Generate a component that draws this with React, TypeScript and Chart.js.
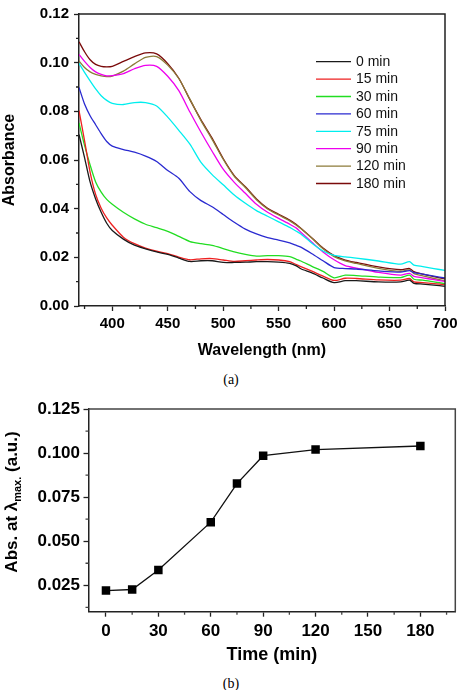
import React, { useEffect, useRef } from 'react';
import { Chart, registerables } from 'chart.js';

Chart.register(...registerables);

// ---------- Spectra (a) ----------
const WAVELENGTHS = [370, 375, 380, 385, 390, 395, 400, 410, 420, 430, 440, 450, 460, 470, 480, 490, 500, 510, 520, 530, 540, 550, 560, 566, 570, 580, 590, 600, 610, 620, 640, 660, 668, 672, 680, 690, 700];

const ABS_0MIN = [0.0705, 0.061, 0.051, 0.044, 0.0385, 0.034, 0.031, 0.0275, 0.025, 0.0235, 0.0222, 0.0212, 0.0197, 0.0183, 0.0186, 0.0186, 0.0179, 0.0179, 0.018, 0.0182, 0.0182, 0.018, 0.0175, 0.0165, 0.0153, 0.0136, 0.0115, 0.0096, 0.0104, 0.0104, 0.0099, 0.0099, 0.0106, 0.0093, 0.009, 0.0086, 0.0081];
const ABS_15MIN = [0.0803, 0.068, 0.055, 0.0458, 0.0402, 0.0362, 0.0332, 0.0283, 0.0256, 0.0238, 0.0225, 0.0215, 0.0201, 0.019, 0.0194, 0.0195, 0.0189, 0.0183, 0.0186, 0.0189, 0.0191, 0.0189, 0.0182, 0.017, 0.0162, 0.0143, 0.0123, 0.0105, 0.0114, 0.0113, 0.0107, 0.0106, 0.0113, 0.0099, 0.0096, 0.0092, 0.0087];
const ABS_30MIN = [0.0752, 0.066, 0.058, 0.051, 0.0468, 0.0438, 0.0418, 0.0385, 0.0358, 0.0336, 0.0322, 0.0307, 0.0286, 0.0265, 0.0256, 0.0249, 0.0236, 0.0222, 0.0212, 0.0205, 0.0207, 0.0207, 0.0203, 0.0192, 0.0185, 0.0163, 0.0142, 0.0116, 0.0127, 0.0125, 0.0119, 0.0117, 0.0127, 0.011, 0.0106, 0.0099, 0.0092];
const ABS_60MIN = [0.0898, 0.083, 0.0782, 0.0745, 0.0708, 0.0676, 0.0657, 0.0643, 0.0632, 0.0616, 0.0594, 0.0557, 0.0525, 0.047, 0.0433, 0.0408, 0.0376, 0.0344, 0.0316, 0.0296, 0.0281, 0.0271, 0.0259, 0.0249, 0.0242, 0.0215, 0.0186, 0.0158, 0.0154, 0.0152, 0.0144, 0.0139, 0.0145, 0.0137, 0.0131, 0.0123, 0.0115];
const ABS_75MIN = [0.0997, 0.096, 0.0925, 0.0892, 0.0864, 0.0845, 0.0833, 0.0828, 0.0836, 0.0836, 0.0822, 0.0776, 0.0722, 0.0665, 0.059, 0.054, 0.0498, 0.0456, 0.0422, 0.0392, 0.0369, 0.0346, 0.0323, 0.0307, 0.0296, 0.0258, 0.0226, 0.0208, 0.0202, 0.0197, 0.0185, 0.0172, 0.0182, 0.0168, 0.0162, 0.0154, 0.0146];
const ABS_90MIN = [0.1034, 0.1005, 0.098, 0.0962, 0.0952, 0.0946, 0.0947, 0.0955, 0.0975, 0.0989, 0.0985, 0.0944, 0.0885, 0.0797, 0.0714, 0.0636, 0.0562, 0.0508, 0.0463, 0.0418, 0.0385, 0.036, 0.0336, 0.032, 0.0303, 0.0262, 0.0222, 0.019, 0.0166, 0.0156, 0.0138, 0.0127, 0.0134, 0.0122, 0.0116, 0.0108, 0.0101];
const ABS_120MIN = [0.1007, 0.098, 0.0962, 0.0952, 0.0946, 0.0943, 0.0945, 0.0965, 0.0995, 0.1022, 0.1025, 0.099, 0.0935, 0.085, 0.0762, 0.0685, 0.0603, 0.0533, 0.0487, 0.0437, 0.0399, 0.0374, 0.035, 0.0332, 0.0318, 0.0278, 0.0235, 0.0203, 0.0185, 0.0175, 0.0155, 0.0142, 0.0148, 0.0133, 0.0124, 0.0113, 0.0103];
const ABS_180MIN = [0.1086, 0.1045, 0.1012, 0.0993, 0.0985, 0.0983, 0.0985, 0.1005, 0.1025, 0.104, 0.1036, 0.0996, 0.0936, 0.0848, 0.0765, 0.069, 0.0606, 0.0536, 0.049, 0.044, 0.0402, 0.0377, 0.0353, 0.0335, 0.032, 0.028, 0.0238, 0.0207, 0.0189, 0.0179, 0.0161, 0.0149, 0.0154, 0.0141, 0.0131, 0.0121, 0.0111];

const SPECTRA_LABELS = ['0 min', '15 min', '30 min', '60 min', '75 min', '90 min', '120 min', '180 min'];
const SPECTRA = [ABS_0MIN, ABS_15MIN, ABS_30MIN, ABS_60MIN, ABS_75MIN, ABS_90MIN, ABS_120MIN, ABS_180MIN];
const SPECTRA_COLORS = ['#1a1a1a', '#ee2020', '#22dd22', '#2a2ad0', '#00eeee', '#ee00ee', '#8c7b38', '#7a0a0a'];

const WL_TICKS = [400, 450, 500, 550, 600, 650, 700];
const WL_MINOR = [375, 425, 475, 525, 575, 625, 675];
const ABS_TICKS = [0, 0.02, 0.04, 0.06, 0.08, 0.1, 0.12];
const ABS_MINOR = [0.01, 0.03, 0.05, 0.07, 0.09, 0.11];

// ---------- Kinetics (b) ----------
const TIMES = [0, 15, 30, 60, 75, 90, 120, 180];
const ABS_AT_MAX = [0.022, 0.0226, 0.0337, 0.0608, 0.0827, 0.0985, 0.102, 0.104];

const TIME_TICKS = [0, 30, 60, 90, 120, 150, 180];
const TIME_MINOR = [15, 45, 75, 105, 135, 165, 195];
const KIN_TICKS = [0.025, 0.05, 0.075, 0.1, 0.125];
const KIN_MINOR = [0.0125, 0.0375, 0.0625, 0.0875, 0.1125];

const SANS = "'Liberation Sans', Arial, sans-serif";
const AXIS = '#222222';

// Closes the plot box on top/right and adds short minor ticks on the axes.
const framePlugin = {
  id: 'frame',
  afterDraw(chart: any, _args: any, opts: any) {
    const { ctx, chartArea: a, scales } = chart;
    ctx.save();
    ctx.strokeStyle = opts.color;
    ctx.lineWidth = opts.width;
    ctx.beginPath();
    ctx.moveTo(a.left, a.top);
    ctx.lineTo(a.right, a.top);
    ctx.lineTo(a.right, a.bottom);
    ctx.stroke();
    ctx.lineWidth = opts.tickWidth;
    ctx.beginPath();
    for (const v of opts.minorX || []) {
      const px = scales.x.getPixelForValue(v);
      ctx.moveTo(px, a.bottom);
      ctx.lineTo(px, a.bottom + opts.minorLen);
    }
    for (const v of opts.minorY || []) {
      const py = scales.y.getPixelForValue(v);
      ctx.moveTo(a.left, py);
      ctx.lineTo(a.left - opts.minorLen, py);
    }
    ctx.stroke();
    ctx.restore();
  },
};

// Line-sample legend placed inside the plot area.
const lineLegendPlugin = {
  id: 'lineLegend',
  afterDraw(chart: any, _args: any, opts: any) {
    const { ctx } = chart;
    ctx.save();
    ctx.font = opts.font;
    ctx.textBaseline = 'middle';
    ctx.textAlign = 'left';
    chart.data.datasets.forEach((ds: any, i: number) => {
      const y = opts.y + i * opts.step;
      ctx.strokeStyle = ds.borderColor;
      ctx.lineWidth = 1.3;
      ctx.beginPath();
      ctx.moveTo(opts.x, y);
      ctx.lineTo(opts.x + opts.len, y);
      ctx.stroke();
      ctx.fillStyle = '#111';
      ctx.fillText(ds.label, opts.x + opts.len + opts.gap, y + 0.5);
    });
    ctx.restore();
  },
};

// Rotated y-axis title with a subscript part.
const subTitlePlugin = {
  id: 'subTitle',
  afterDraw(chart: any, _args: any, opts: any) {
    const { ctx } = chart;
    const parts = opts.parts as { text: string; sub?: boolean }[];
    const mainFont = `bold ${opts.size}px ${SANS}`;
    const subFont = `bold ${opts.subSize}px ${SANS}`;
    ctx.save();
    let total = 0;
    const widths = parts.map((p) => {
      ctx.font = p.sub ? subFont : mainFont;
      const w = ctx.measureText(p.text).width;
      total += w;
      return w;
    });
    ctx.translate(opts.x, opts.y);
    ctx.rotate(-Math.PI / 2);
    ctx.fillStyle = '#000';
    ctx.textBaseline = 'alphabetic';
    ctx.textAlign = 'left';
    let cx = -total / 2;
    parts.forEach((p, i) => {
      ctx.font = p.sub ? subFont : mainFont;
      ctx.fillText(p.text, cx, p.sub ? opts.subShift : 0);
      cx += widths[i];
    });
    ctx.restore();
  },
};

function tickFont(size: number) {
  return { family: SANS, size, weight: 'bold' as const };
}

export default function App() {
  const refA = useRef<HTMLCanvasElement | null>(null);
  const refB = useRef<HTMLCanvasElement | null>(null);

  useEffect(() => {
    const chartA = new Chart(refA.current as HTMLCanvasElement, {
      type: 'line',
      data: {
        datasets: SPECTRA.map((vals, i) => ({
          label: SPECTRA_LABELS[i],
          data: WAVELENGTHS.map((w, j) => ({ x: w, y: vals[j] })),
          borderColor: SPECTRA_COLORS[i],
          backgroundColor: SPECTRA_COLORS[i],
          borderWidth: 1.3,
          pointRadius: 0,
          tension: 0.25,
          fill: false,
        })),
      },
      options: {
        responsive: false,
        animation: false,
        devicePixelRatio: 1,
        events: [],
        layout: { padding: { top: 12, right: 17, left: 0, bottom: 0 } },
        plugins: {
          legend: { display: false },
          tooltip: { enabled: false },
          frame: { color: AXIS, width: 1.5, tickWidth: 1.3, minorLen: 3, minorX: WL_MINOR, minorY: ABS_MINOR },
          lineLegend: { x: 316, y: 61.7, step: 17.4, len: 35, gap: 5, font: `14px ${SANS}` },
        } as any,
        scales: {
          x: {
            type: 'linear',
            min: 370,
            max: 700,
            afterBuildTicks: (s: any) => { s.ticks = WL_TICKS.map((v) => ({ value: v })); },
            afterFit: (s: any) => { s.height = 60; },
            ticks: { font: tickFont(15), color: '#000', padding: 4, maxRotation: 0, autoSkip: false, callback: (v: any) => String(v) },
            grid: { display: true, drawOnChartArea: false, drawTicks: true, tickLength: 5, tickColor: AXIS, tickWidth: 1.3 },
            border: { display: true, color: AXIS, width: 1.5 },
            title: { display: true, text: 'Wavelength (nm)', color: '#000', font: tickFont(16), padding: { top: 0, bottom: 6 } },
          },
          y: {
            type: 'linear',
            min: 0,
            max: 0.12,
            afterBuildTicks: (s: any) => { s.ticks = ABS_TICKS.map((v) => ({ value: v })); },
            afterFit: (s: any) => { s.width = 79; },
            ticks: { font: tickFont(15), color: '#000', padding: 5, autoSkip: false, callback: (v: any) => Number(v).toFixed(2) },
            grid: { display: true, drawOnChartArea: false, drawTicks: true, tickLength: 5, tickColor: AXIS, tickWidth: 1.3 },
            border: { display: true, color: AXIS, width: 1.5 },
            title: { display: true, text: 'Absorbance', color: '#000', font: tickFont(16), padding: { top: 0, bottom: 0 } },
          },
        },
      } as any,
      plugins: [framePlugin, lineLegendPlugin],
    });

    const chartB = new Chart(refB.current as HTMLCanvasElement, {
      type: 'line',
      data: {
        datasets: [
          {
            label: 'Abs. at λmax.',
            data: TIMES.map((t, i) => ({ x: t, y: ABS_AT_MAX[i] })),
            borderColor: '#111',
            backgroundColor: '#000',
            borderWidth: 1.3,
            pointStyle: 'rect',
            pointRadius: 6,
            pointBorderWidth: 0,
            tension: 0,
            fill: false,
          },
        ],
      },
      options: {
        responsive: false,
        animation: false,
        devicePixelRatio: 1,
        events: [],
        layout: { padding: { top: 17, right: 6.7, left: 0, bottom: 0 } },
        plugins: {
          legend: { display: false },
          tooltip: { enabled: false },
          frame: { color: '#444', width: 1.5, tickWidth: 1.3, minorLen: 3, minorX: TIME_MINOR, minorY: KIN_MINOR },
          subTitle: {
            x: 17,
            y: 110,
            size: 17,
            subSize: 11,
            subShift: 4,
            parts: [{ text: 'Abs. at λ' }, { text: 'max.', sub: true }, { text: ' (a.u.)' }],
          },
        } as any,
        scales: {
          x: {
            type: 'linear',
            min: -10,
            max: 200,
            afterBuildTicks: (s: any) => { s.ticks = TIME_TICKS.map((v) => ({ value: v })); },
            afterFit: (s: any) => { s.height = 58.3; },
            ticks: { font: tickFont(17), color: '#000', padding: 4, maxRotation: 0, autoSkip: false, callback: (v: any) => String(v) },
            grid: { display: true, drawOnChartArea: false, drawTicks: true, tickLength: 5, tickColor: AXIS, tickWidth: 1.3 },
            border: { display: true, color: AXIS, width: 1.5 },
            title: { display: true, text: 'Time (min)', color: '#000', font: tickFont(18), padding: { top: 0, bottom: 4 } },
          },
          y: {
            type: 'linear',
            min: 0.01,
            max: 0.125,
            afterBuildTicks: (s: any) => { s.ticks = KIN_TICKS.map((v) => ({ value: v })); },
            afterFit: (s: any) => { s.width = 88.5; },
            ticks: { font: tickFont(17), color: '#000', padding: 3.5, autoSkip: false, callback: (v: any) => Number(v).toFixed(3) },
            grid: { display: true, drawOnChartArea: false, drawTicks: true, tickLength: 5, tickColor: AXIS, tickWidth: 1.3 },
            border: { display: true, color: AXIS, width: 1.5 },
          },
        },
      } as any,
      plugins: [framePlugin, subTitlePlugin],
    });

    return () => {
      chartA.destroy();
      chartB.destroy();
    };
  }, []);

  const caption: React.CSSProperties = {
    position: 'absolute',
    left: 0,
    width: 462,
    height: 18,
    lineHeight: '18px',
    textAlign: 'center',
    fontFamily: "'Liberation Serif', 'Times New Roman', serif",
    fontSize: 14,
    color: '#000',
  };

  return (
    <div style={{ position: 'absolute', left: 0, top: 0, width: 462, height: 690, background: '#fff', overflow: 'hidden' }}>
      <canvas ref={refA} width={462} height={366} style={{ position: 'absolute', left: 0, top: 0, display: 'block' }} />
      <div style={{ ...caption, top: 371 }}>(a)</div>
      <canvas ref={refB} width={462} height={278} style={{ position: 'absolute', left: 0, top: 392, display: 'block' }} />
      <div style={{ ...caption, top: 675 }}>(b)</div>
    </div>
  );
}
